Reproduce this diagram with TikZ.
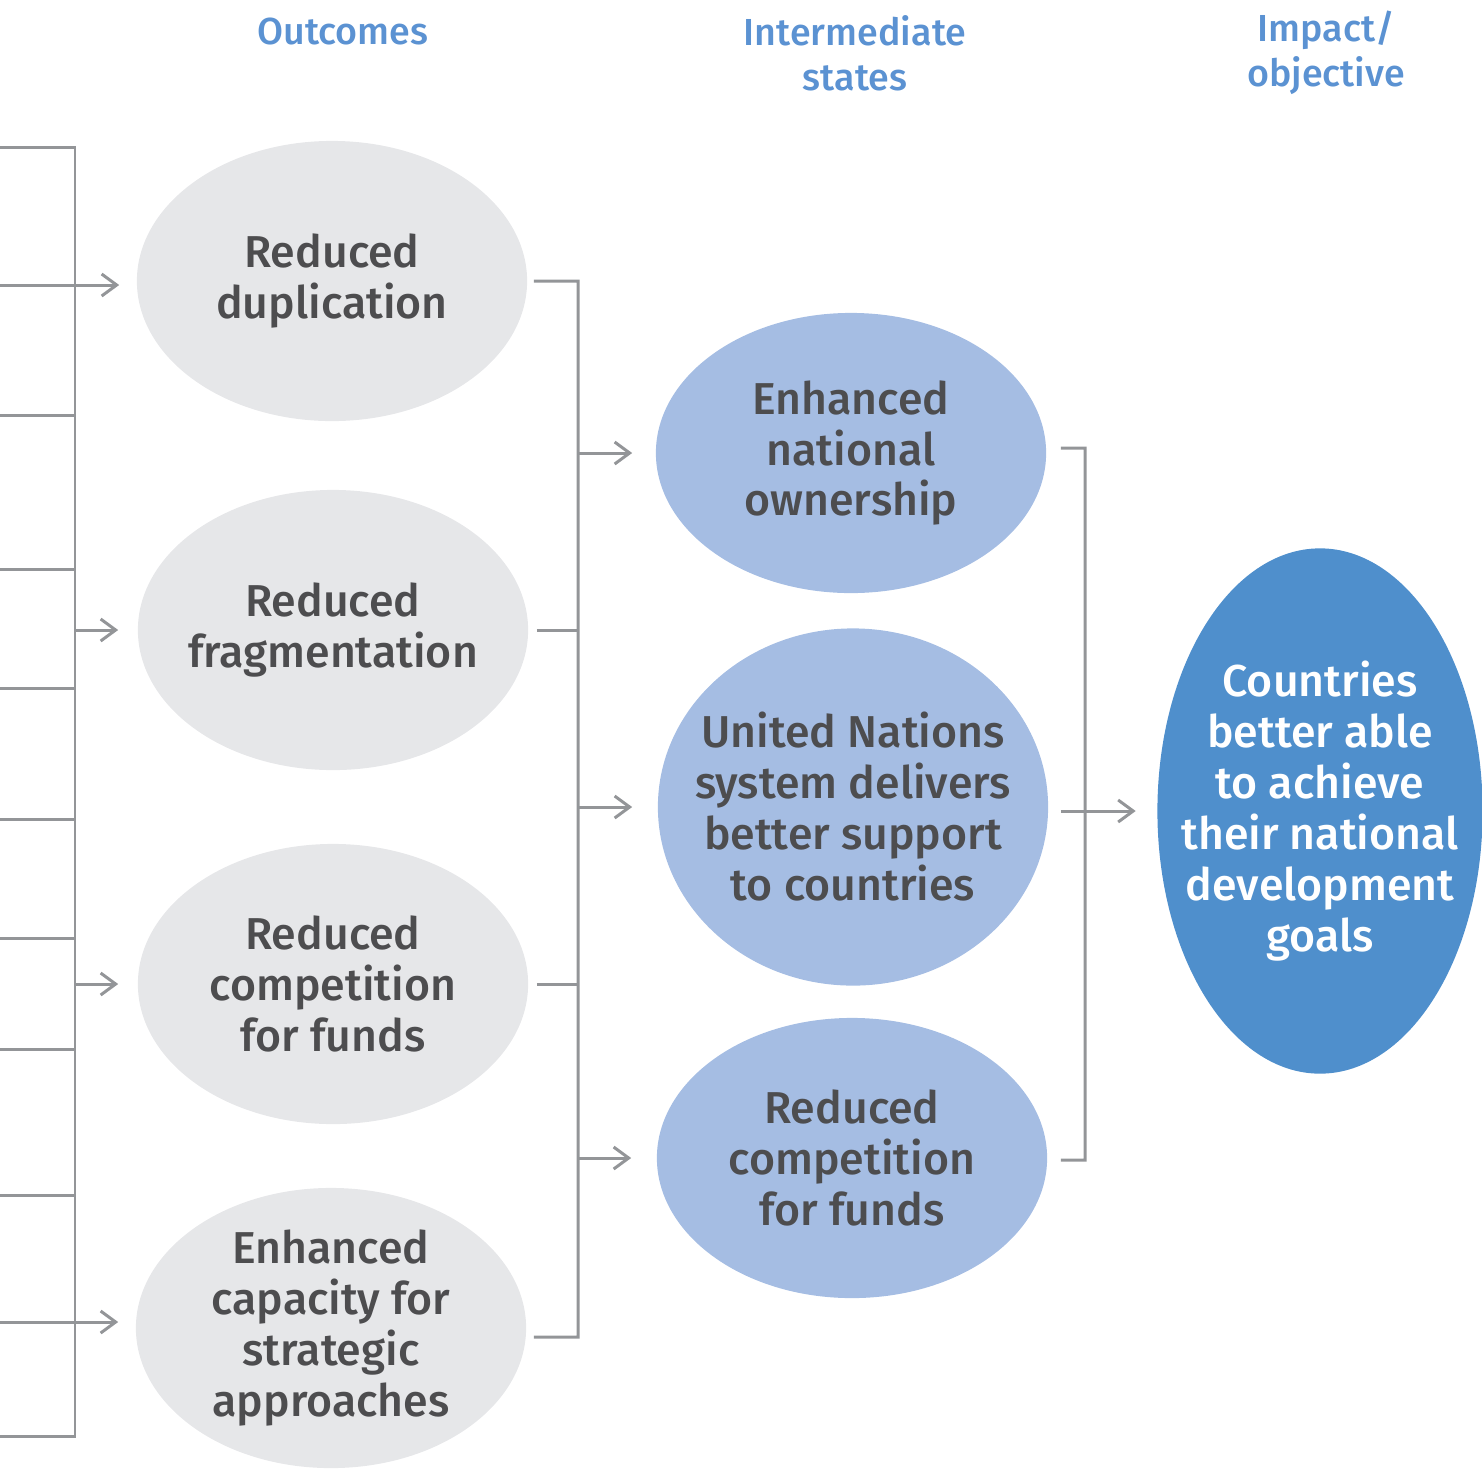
\documentclass[tikz,border=0pt]{standalone}
\usepackage{fontspec}
\setmainfont{Fira Sans}[UprightFont={* Medium}]
\usetikzlibrary{shapes.geometric,positioning,arrows.meta}
\definecolor{outgray}{HTML}{E6E7E9}
\definecolor{midblue}{HTML}{A5BDE3}
\definecolor{impblue}{HTML}{4F8FCC}
\definecolor{linegray}{HTML}{939598}
\definecolor{headblue}{HTML}{5B92D2}
\definecolor{txtgray}{HTML}{4D4D4F}
\tikzset{
  bubble/.style={ellipse,inner sep=-5mm,align=center,font=\fontsize{12.7}{14.5}\selectfont,text=txtgray},
  outcome/.style={bubble,fill=outgray,minimum width=3.9cm,minimum height=2.8cm},
  state/.style={bubble,fill=midblue,minimum width=3.9cm,minimum height=2.8cm},
  impact/.style={bubble,fill=impblue,text=white,minimum width=3.25cm,minimum height=5.25cm},
  heading/.style={align=center,text=headblue,font=\fontsize{10.7}{12.8}\selectfont},
  conn/.style={draw=linegray,line width=0.85pt},
  arr/.style={conn,->,>={Straight Barb[length=1.5mm,width=2.2mm]}}
}
\begin{document}
\begin{tikzpicture}[x=0.01cm,y=-0.01cm]
    \useasboundingbox (0,0) rectangle (1482,1469);
    % headings
    \node at (343, 31) [heading] (hout) {Outcomes};
    \node at (855, 53) [heading] (hint) {Intermediate\\states};
    \node at (1326, 53) [heading] (himp) {Impact/\\objective};

    % outcomes
    \node at (332, 281) [outcome] (out1) {Reduced\\duplication};
    \node at (333, 630) [outcome] (out2) {Reduced\\fragmentation};
    \node at (333, 984) [outcome] (out3) {Reduced\\competition\\for funds};
    \node at (331, 1328) [outcome] (out4) {Enhanced\\capacity for\\strategic\\approaches};

    % intermediate states
    \node at (851, 453) [state] (int1) {Enhanced\\national\\ownership};
    \node at (853, 807) [state, minimum height=3.57cm] (int2) {United Nations\\system delivers\\better support\\to countries};
    \node at (852, 1158) [state] (int3) {Reduced\\competition\\for funds};

    % impact
    \node at (1320, 811) [impact] (imp) {Countries\\better able\\to achieve\\their national\\development\\goals};

    % left bracket (comes in from the cut edge)
    \coordinate (lbar) at (75, 0);
    \coordinate (ltop) at (0, 147);
    \coordinate (lbot) at (0, 1436);
    \draw[conn] (ltop) -| (lbar |- lbot) -- (lbot);
    \foreach \y in {415, 569, 688, 819, 938, 1049, 1195}
        \draw[conn] (0, \y) -- (lbar |- 0, \y);
    \coordinate (lin1) at (0, 285);
    \coordinate (lin4) at (0, 1322);
    \draw[arr] (lin1) -- ([xshift=-1.7mm]out1.west |- lin1);
    \draw[arr] (lbar |- out2.west) -- ([xshift=-1.9mm]out2.west);
    \draw[arr] (lbar |- out3.west) -- ([xshift=-1.9mm]out3.west);
    \draw[arr] (lin4) -- ([xshift=-1.7mm]out4.west |- lin4);

    % outcomes -> intermediate states
    \coordinate (mbar) at (578, 0);
    \draw[conn] ([xshift=.6mm]out1.east) -| (mbar |- 0, 1337) -- ([xshift=.7mm,yshift=-.9mm]out4.east);
    \draw[conn] ([xshift=.8mm]out2.east) -- (mbar |- out2.east);
    \draw[conn] ([xshift=.8mm]out3.east) -- (mbar |- out3.east);
    \draw[arr] (mbar |- int1.west) -- ([xshift=-2.3mm]int1.west);
    \draw[arr] (mbar |- int2.west) -- ([xshift=-2.5mm]int2.west);
    \draw[arr] (mbar |- int3.west) -- ([xshift=-2.5mm]int3.west);

    % intermediate states -> impact
    \coordinate (rbar) at (1085, 0);
    \draw[conn] ([xshift=1.4mm,yshift=.5mm]int1.east) -| (rbar |- 0, 1160) -- ([xshift=1.3mm,yshift=-.2mm]int3.east);
    \draw[arr] ([xshift=1.2mm]int2.east |- imp.west) -- ([xshift=-2.1mm]imp.west);
\end{tikzpicture}
\end{document}
